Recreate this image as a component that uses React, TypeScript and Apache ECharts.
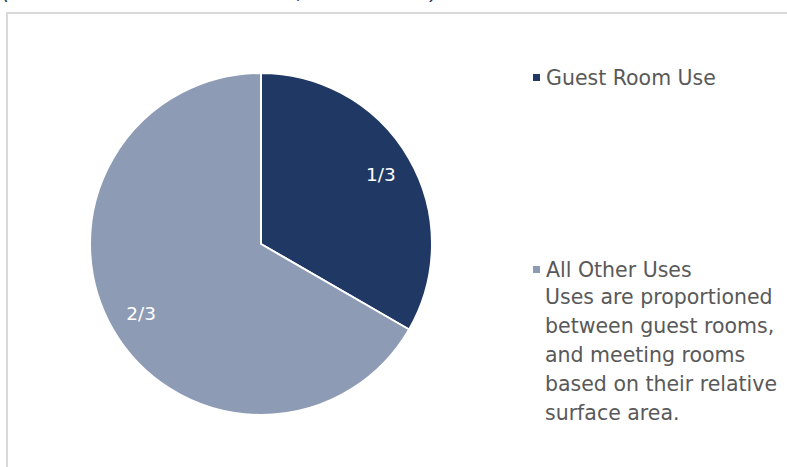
import React, { useEffect, useRef } from "react";
import * as echarts from "echarts";

const categories = ["Guest Room Use", "All Other Uses"];
const shares = [1, 2];
const sliceLabels = ["1/3", "2/3"];
const colors = ["#203864", "#8e9bb5"];
const note = "Uses are proportioned\nbetween guest rooms,\nand meeting rooms\nbased on their relative\nsurface area.";
const titleText = "(Share of total hotel surface, in the hotel)";

export default function App() {
  const ref = useRef<HTMLDivElement>(null);
  useEffect(() => {
    document.body.style.margin = "0";
    const chart = echarts.init(ref.current!, null, { renderer: "svg" });
    const data = categories.map((c, i) => ({ name: c, value: shares[i], itemStyle: { color: colors[i] } }));
    const font = "DejaVu Sans";
    const legendText = { fontSize: 20.5, fontFamily: font, color: "#595959" };
    chart.setOption({
      animation: false,
      graphic: [
        { type: "rect", shape: { x: 7, y: 13, width: 820, height: 480 }, style: { fill: "none", stroke: "#d9d9d9", lineWidth: 2 }, z: -1 },
        { type: "text", left: 2, top: -19, style: { text: titleText, fontSize: 21, fontStyle: "italic", fontFamily: font, fill: "#203864" } },
        { type: "text", left: 545, top: 282, style: { text: note, fontSize: 20.5, lineHeight: 29, fontFamily: font, fill: "#595959" } },
      ],
      legend: [
        { data: [categories[0]], left: 526, top: 62, icon: "rect", itemWidth: 9, itemHeight: 9, textStyle: legendText },
        { data: [categories[1]], left: 526, top: 254, icon: "rect", itemWidth: 9, itemHeight: 9, textStyle: legendText },
      ],
      series: [
        {
          type: "pie",
          center: [261, 244],
          radius: [0, 171],
          startAngle: 90,
          clockwise: true,
          data,
          label: { show: false },
          labelLine: { show: false },
          itemStyle: { borderColor: "#ffffff", borderWidth: 2 },
          emphasis: { disabled: true },
        },
        {
          type: "pie",
          center: [261, 244],
          radius: [100, 171],
          startAngle: 90,
          clockwise: true,
          silent: true,
          legendHoverLink: false,
          data: categories.map((c, i) => ({ name: c + " label", value: shares[i], itemStyle: { color: "transparent" } })),
          label: {
            show: true,
            position: "inside",
            formatter: (p: any) => sliceLabels[p.dataIndex],
            color: "#ffffff",
            fontSize: 18.5,
            fontFamily: font,
          },
          labelLine: { show: false },
          emphasis: { disabled: true },
        },
      ],
    });
    return () => chart.dispose();
  }, []);
  return <div ref={ref} style={{ width: 787, height: 467 }} />;
}
